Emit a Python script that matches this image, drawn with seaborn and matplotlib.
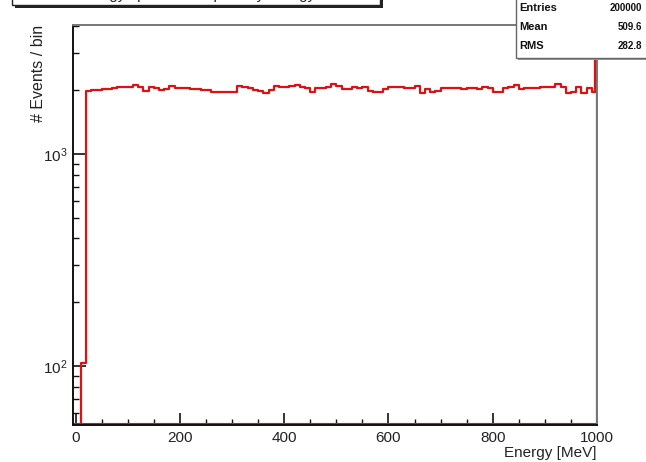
import matplotlib
matplotlib.use("Agg")
import numpy as np
import pandas as pd
import seaborn as sns
import matplotlib.pyplot as plt
from matplotlib.patches import Rectangle
from matplotlib.ticker import LogLocator, MultipleLocator, NullFormatter, FixedLocator

# ---------------- data ----------------
bin_edges = list(range(0, 1000, 10)) + [997, 1000]
counts = [0, 103,
          1990, 2000, 2010, 2025, 2035, 2045, 2078, 2078, 2075, 2125,
          2060, 1980, 2078, 2040, 2004, 2018, 2093, 2048, 2040, 2040,
          2018, 2025, 2004, 2004, 1960, 1960, 1960, 1960, 1960, 2093,
          2078, 2040, 2004, 1990, 1932, 2004, 2093, 2063, 2078, 2093,
          2116, 2078, 2040, 1968, 2040, 2040, 2063, 2138, 2093, 2018,
          2030, 2063,
          2040, 2078, 1990, 1968, 1968, 2018, 2078, 2063, 2063, 2040,
          2040, 2093, 1932, 2018, 1968, 1990, 2040, 2040, 2045, 2040,
          2035, 2040, 2040, 2018, 2078, 2040, 1968, 1968, 2040, 2078,
          2116, 2018, 2040, 2040, 2040, 2078, 2063, 2078, 2138, 2078,
          1932, 1968, 2063, 1932, 2040, 1968,
          50000]
x_ticks = [0, 200, 400, 600, 800, 1000]
stats_names = ["Entries", "Mean", "RMS"]
stats_values = ["200000", "509.6", "282.8"]
title_text = "Energy spectrum of primary energy"
x_label = "Energy [MeV]"
y_label = "# Events / bin"

centers = [(a + b) / 2 for a, b in zip(bin_edges[:-1], bin_edges[1:])]
df = pd.DataFrame({"energy": centers, "n": counts})

# ---------------- style ----------------
sns.set_style("white")
plt.rcParams["font.family"] = ["Liberation Sans", "DejaVu Sans"]
plt.rcParams["mathtext.fontset"] = "custom"
plt.rcParams["mathtext.rm"] = "Liberation Sans"
plt.rcParams["mathtext.it"] = "Liberation Sans"

W, H = 646, 462
fig = plt.figure(figsize=(W / 100, H / 100), dpi=100)
ax = fig.add_axes([73 / W, 1 - 425 / H, (597 - 73) / W, (425 - 25) / H])

red = "#dd1111"
sns.histplot(data=df, x="energy", weights="n", bins=bin_edges, element="step",
             fill=True, color=red, facecolor="none", edgecolor=red,
             linewidth=1.6, ax=ax)
ax.set_yscale("log")
ax.set_xlim(-5, 1000)
ax.set_ylim(52.7, 4060)
ax.axhline(52.7 * 1.012, color=red, lw=1.5, zorder=1)

# ticks (ROOT style: inward)
ax.xaxis.set_major_locator(FixedLocator(x_ticks))
ax.xaxis.set_minor_locator(MultipleLocator(50))
ax.yaxis.set_major_locator(LogLocator(base=10, numticks=10))
ax.yaxis.set_minor_locator(LogLocator(base=10, subs=np.arange(2, 10), numticks=20))
ax.yaxis.set_minor_formatter(NullFormatter())
ax.tick_params(axis="both", which="both", direction="in", colors="#111",
               labelcolor="#222", labelsize=11, bottom=True, left=True,
               top=False, right=False)
ax.tick_params(axis="both", which="major", length=9, width=1.2, pad=4)
ax.tick_params(axis="both", which="minor", length=4.5, width=1.0)

for s in ["left", "bottom"]:
    ax.spines[s].set_color("#111")
    ax.spines[s].set_linewidth(1.4)
for s in ["top", "right"]:
    ax.spines[s].set_color("#777")
    ax.spines[s].set_linewidth(1.4)

ax.set_xlabel(x_label, loc="right", fontsize=11, color="#222", labelpad=1)
ax.set_ylabel(y_label, loc="top", fontsize=11.5, color="#222", labelpad=-2)

# stats box (top right, partly outside)
sbs = Rectangle((518 / W, 1 - 60 / H), 200 / W, 100 / H, transform=fig.transFigure,
                facecolor="#999", edgecolor="none", zorder=4)
fig.patches.append(sbs)
sb = Rectangle((516 / W, 1 - 58 / H), 200 / W, 100 / H, transform=fig.transFigure,
               facecolor="white", edgecolor="#666", linewidth=1.0, zorder=5)
fig.patches.append(sb)
for i, (nm, vl) in enumerate(zip(stats_names, stats_values)):
    yy = 1 - (8 + 19 * i) / H
    fig.text(519 / W, yy, nm, fontsize=8, fontweight="bold", va="center",
             ha="left", color="#111", zorder=6)
    fig.text(642 / W, yy, vl, fontsize=7, fontweight="bold", va="center",
             ha="right", color="#111", zorder=6)

# title box (top left, mostly outside the canvas, as in the reference)
tb_sh = Rectangle((15 / W, 1 - 8 / H), 368 / W, 60 / H, transform=fig.transFigure,
                  facecolor="#222", edgecolor="none", zorder=4)
fig.patches.append(tb_sh)
tb = Rectangle((12 / W, 1 - 5 / H), 368 / W, 60 / H, transform=fig.transFigure,
               facecolor="white", edgecolor="#222", linewidth=1.0, zorder=5)
fig.patches.append(tb)
fig.text(196 / W, 1 + 1 / H, title_text, fontsize=11, ha="center", va="baseline",
         color="#222", zorder=6)

fig.savefig("out.png", dpi=100, facecolor="white")
